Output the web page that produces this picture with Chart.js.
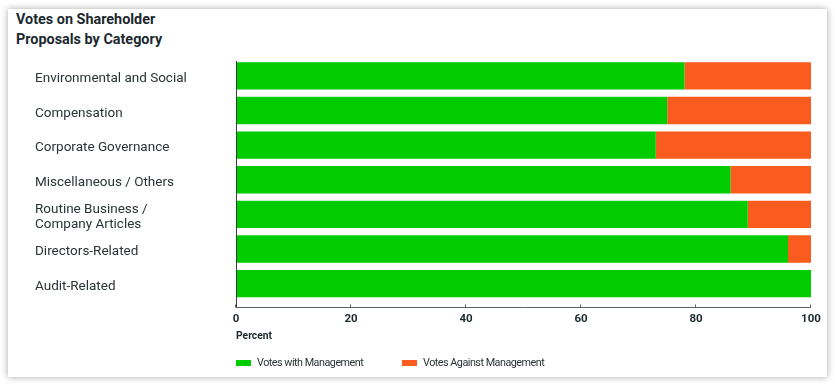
<!DOCTYPE html>
<html lang="en">
<head>
    <meta charset="UTF-8">
    <title>Votes on Shareholder Proposals by Category</title>
    <script src="https://cdn.jsdelivr.net/npm/chart.js"></script>
    <style>
        body { margin: 0; width: 835px; height: 386px; background: #fff; position: relative; overflow: hidden; font-family: Roboto, sans-serif; }
        .card { position: absolute; left: 8px; top: 9px; width: 819px; height: 368px; background: #fff; box-shadow: 0 0 7px rgba(0,0,0,0.35); }
        .title { position: absolute; left: 16px; top: 10px; font-weight: bold; font-size: 14.4px; line-height: 19.5px; color: #1b292e; }
        .chart-box { position: absolute; left: 0; top: 0; width: 835px; height: 386px; }
        .legend { position: absolute; left: 236px; top: 357px; font-size: 10.8px; line-height: 12px; color: #2b3336; letter-spacing: -0.5px; }
        .legend .item { position: absolute; top: 0; white-space: nowrap; }
        .legend i { position: absolute; left: 0; top: 2.5px; width: 15px; height: 6.5px; }
        .legend span.txt { position: absolute; left: 21px; top: 0; }
    </style>
</head>
<body>
    <div class="card"></div>
    <div class="title">Votes on Shareholder<br>Proposals by Category</div>
    <div class="chart-box"><canvas id="myChart" width="835" height="386"></canvas></div>
    <div class="legend" id="legend"></div>
    <script>
        const categories = [
            'Environmental and Social',
            'Compensation',
            'Corporate Governance',
            'Miscellaneous / Others',
            ['Routine Business /', 'Company Articles'],
            'Directors-Related',
            'Audit-Related'
        ];
        const withManagement = [78, 75, 73, 86, 89, 96, 100];
        const againstManagement = [22, 25, 27, 14, 11, 4, 0];
        const xTicks = [0, 20, 40, 60, 80, 100];

        const GREEN = '#00cc00';
        const ORANGE = '#fa5b1e';

        // axis lines drawn a little below the bars, like the original
        const axisLines = {
            id: 'axisLines',
            afterDraw(chart) {
                const ctx = chart.ctx;
                const area = chart.chartArea;
                const x = chart.scales.x;
                const yLine = area.bottom + 6.5;
                ctx.save();
                ctx.lineWidth = 1;
                ctx.strokeStyle = '#33403f';
                ctx.beginPath();
                ctx.moveTo(area.left + 0.5, area.top + 2.5);
                ctx.lineTo(area.left + 0.5, yLine);
                ctx.stroke();
                ctx.strokeStyle = '#5b6263';
                ctx.beginPath();
                ctx.moveTo(area.left, yLine);
                ctx.lineTo(area.right, yLine);
                xTicks.forEach(v => {
                    const px = Math.round(x.getPixelForValue(v)) - 0.5;
                    ctx.moveTo(px, yLine);
                    ctx.lineTo(px, yLine - 3);
                });
                ctx.stroke();
                ctx.restore();
            }
        };

        Chart.defaults.font.family = 'Roboto, sans-serif';

        const chart = new Chart(document.getElementById('myChart'), {
            type: 'bar',
            data: {
                labels: categories,
                datasets: [
                    { label: 'Votes with Management', data: withManagement, backgroundColor: GREEN },
                    { label: 'Votes Against Management', data: againstManagement, backgroundColor: ORANGE }
                ]
            },
            options: {
                indexAxis: 'y',
                responsive: false,
                animation: false,
                categoryPercentage: 1,
                barPercentage: 0.79,
                layout: { padding: { left: 35, right: 24, top: 58.5, bottom: 0 } },
                plugins: {
                    legend: { display: false },
                    tooltip: { enabled: false }
                },
                scales: {
                    x: {
                        stacked: true,
                        min: 0,
                        max: 100,
                        grid: { display: false, drawTicks: false },
                        border: { display: false },
                        ticks: {
                            stepSize: 20,
                            padding: 11,
                            color: '#1b292e',
                            font: { size: 11.5, weight: 'bold' }
                        },
                        title: {
                            display: true,
                            text: 'Percent',
                            align: 'start',
                            color: '#1b292e',
                            font: { size: 10.3, weight: 'bold' },
                            padding: { top: 0, bottom: 43 }
                        },
                        afterFit(scale) { scale.height = 85; }
                    },
                    y: {
                        stacked: true,
                        grid: { display: false, drawTicks: false },
                        border: { display: false },
                        ticks: {
                            crossAlign: 'far',
                            labelOffset: 3,
                            color: '#2b3336',
                            font: { size: 13.5, lineHeight: 1.11 }
                        },
                        afterFit(scale) { scale.width = 201; }
                    }
                }
            },
            plugins: [axisLines]
        });

        // legend built from the chart datasets
        const legendEl = document.getElementById('legend');
        const offsets = [0, 166];
        chart.data.datasets.forEach((ds, i) => {
            const item = document.createElement('div');
            item.className = 'item';
            item.style.left = offsets[i] + 'px';
            item.innerHTML = '<i style="background:' + ds.backgroundColor + '"></i><span class="txt">' + ds.label + '</span>';
            legendEl.appendChild(item);
        });
    </script>
</body>
</html>
